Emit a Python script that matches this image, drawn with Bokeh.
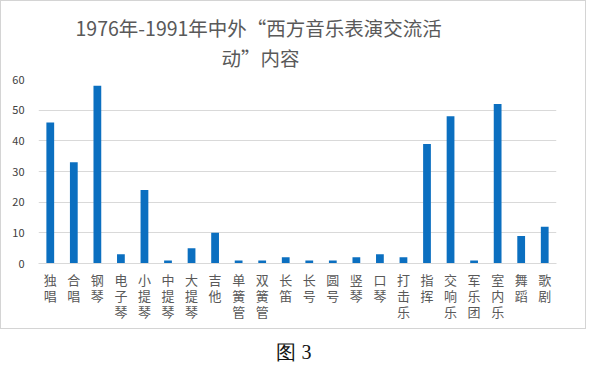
from bokeh.plotting import figure
from bokeh.models import Range1d, FixedTicker, Title
from bokeh.layouts import column
from bokeh.core.properties import value
from bokeh.embed import file_html
from bokeh.resources import INLINE

# ---- data ----
title_line1 = "1976年-1991年中外“西方音乐表演交流活"
title_line2 = "动”内容"
caption = "图 3"
categories = ["独唱", "合唱", "钢琴", "电子琴", "小提琴", "中提琴", "大提琴", "吉他",
              "单簧管", "双簧管", "长笛", "长号", "圆号", "竖琴", "口琴", "打击乐",
              "指挥", "交响乐", "军乐团", "室内乐", "舞蹈", "歌剧"]
counts = [46, 33, 58, 3, 24, 1, 5, 10, 1, 1, 2, 1, 1, 2, 3, 2, 39, 48, 1, 52, 9, 12]
y_ticks = [0, 10, 20, 30, 40, 50, 60]

FONT = "Noto Sans CJK SC"
GREY = "#595959"

xs = list(range(len(categories)))

p = figure(frame_width=516, frame_height=182,
           min_border_left=37, min_border_right=31,
           min_border_top=78, min_border_bottom=67,
           x_range=Range1d(-0.5, len(categories) - 0.5),
           y_range=Range1d(0, 60),
           output_backend="svg", toolbar_location=None,
           styles={"border": "1px solid #d4d4d4"})

p.vbar(x=xs, top=counts, width=0.33, color="#0B6FC0", line_color=None)

p.add_layout(Title(text=title_line2, align="left", offset=183,
                   text_font=FONT, text_font_size="19.5px", text_font_style="normal",
                   text_color=GREY, standoff=15), "above")
p.add_layout(Title(text=title_line1, align="left", offset=37,
                   text_font=FONT, text_font_size="19.5px", text_font_style="normal",
                   text_color=GREY, standoff=-17), "above")

p.xaxis.ticker = FixedTicker(ticks=xs)
p.xaxis.major_label_overrides = {i: "\n".join(c) for i, c in enumerate(categories)}
p.xaxis.major_label_text_font = FONT
p.xaxis.major_label_text_font_size = "13px"
p.xaxis.major_label_text_line_height = 0.86
p.xaxis.major_label_text_color = GREY
p.xaxis.major_label_standoff = 0
p.xaxis.axis_line_color = "#d9d9d9"
p.xaxis.major_tick_line_color = None
p.xaxis.minor_tick_line_color = None

p.yaxis.ticker = FixedTicker(ticks=y_ticks)
p.yaxis.major_label_text_font = FONT
p.yaxis.major_label_text_font_size = "11px"
p.yaxis.major_label_text_color = "#404040"
p.yaxis.major_label_standoff = 8
p.yaxis.axis_line_color = None
p.yaxis.major_tick_line_color = None
p.yaxis.minor_tick_line_color = None

p.xgrid.grid_line_color = None
p.ygrid.grid_line_color = "#d9d9d9"
p.outline_line_color = None

cap = figure(width=584, height=35, x_range=Range1d(0, 1), y_range=Range1d(0, 1),
             min_border=0, output_backend="svg", toolbar_location=None)
cap.text(x=[0.497], y=[0.36], text=[caption], text_font=value("Liberation Serif"),
         text_font_size="20px", text_color="#111111",
         text_align="center", text_baseline="middle")
cap.axis.visible = False
cap.grid.grid_line_color = None
cap.outline_line_color = None

layout = column(p, cap, spacing=0)
open("out.html", "w").write(file_html(layout, INLINE))
